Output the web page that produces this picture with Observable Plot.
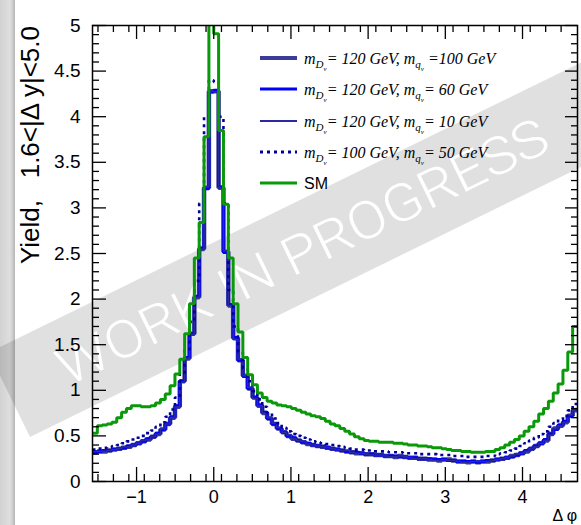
<!DOCTYPE html>
<html><head><meta charset="utf-8">
<script src="https://cdn.jsdelivr.net/npm/d3@7"></script>
<script src="https://cdn.jsdelivr.net/npm/@observablehq/plot@0.6"></script>
<style>
html,body{margin:0;padding:0;background:#fff;}
#chart{width:581px;height:525px;overflow:hidden;}
</style></head><body><div id="chart"></div>
<script>
// Histogram binning: 100 bins over [-pi/2, 3pi/2]
const xMin = -Math.PI / 2, xMax = 3 * Math.PI / 2, nBins = 100;

// Series values (yield per bin)
const mD120mq100 = [0.32,0.33,0.33,0.34,0.35,0.36,0.37,0.38,0.40,0.42,0.44,0.46,0.49,0.52,0.57,0.63,0.70,0.82,1.10,1.35,1.62,2.02,2.55,3.22,4.28,4.28,3.22,2.52,1.93,1.57,1.33,1.16,1.02,0.92,0.83,0.75,0.69,0.63,0.58,0.54,0.50,0.47,0.45,0.43,0.41,0.40,0.39,0.38,0.37,0.36,0.35,0.34,0.33,0.32,0.31,0.31,0.30,0.30,0.29,0.29,0.28,0.28,0.27,0.28,0.27,0.26,0.26,0.25,0.25,0.24,0.24,0.23,0.24,0.24,0.23,0.22,0.22,0.21,0.22,0.21,0.22,0.22,0.23,0.24,0.25,0.26,0.28,0.29,0.31,0.33,0.36,0.39,0.42,0.45,0.52,0.58,0.61,0.65,0.72,0.78];
const mD120mq60  = [0.32,0.33,0.34,0.34,0.35,0.36,0.37,0.39,0.40,0.42,0.44,0.47,0.49,0.53,0.57,0.63,0.71,0.83,1.10,1.36,1.62,2.03,2.56,3.21,4.27,4.29,3.23,2.51,1.94,1.58,1.33,1.15,1.02,0.92,0.84,0.76,0.69,0.63,0.58,0.54,0.50,0.48,0.45,0.43,0.42,0.40,0.39,0.38,0.37,0.36,0.35,0.34,0.33,0.32,0.32,0.31,0.30,0.30,0.29,0.29,0.28,0.28,0.28,0.27,0.27,0.26,0.26,0.25,0.25,0.25,0.24,0.24,0.24,0.23,0.23,0.22,0.22,0.22,0.22,0.21,0.22,0.23,0.23,0.24,0.25,0.26,0.27,0.29,0.31,0.34,0.36,0.39,0.42,0.46,0.52,0.57,0.62,0.66,0.72,0.79];
const mD120mq10  = [0.33,0.33,0.33,0.34,0.35,0.36,0.38,0.38,0.40,0.42,0.45,0.46,0.49,0.52,0.58,0.63,0.70,0.82,1.09,1.35,1.61,2.02,2.55,3.23,4.28,4.27,3.22,2.53,1.93,1.56,1.34,1.16,1.03,0.91,0.83,0.75,0.70,0.64,0.59,0.54,0.51,0.47,0.45,0.44,0.41,0.40,0.39,0.38,0.37,0.36,0.35,0.34,0.34,0.32,0.31,0.31,0.30,0.29,0.29,0.29,0.28,0.27,0.27,0.28,0.27,0.26,0.25,0.25,0.25,0.24,0.23,0.23,0.24,0.23,0.23,0.22,0.21,0.21,0.22,0.22,0.22,0.22,0.23,0.24,0.25,0.26,0.28,0.30,0.31,0.33,0.36,0.38,0.42,0.45,0.51,0.58,0.61,0.65,0.73,0.78];
const mD100mq50  = [0.35,0.36,0.37,0.38,0.39,0.40,0.42,0.44,0.46,0.48,0.50,0.53,0.56,0.60,0.65,0.71,0.79,0.92,1.18,1.45,1.75,2.20,3.05,4.00,4.40,4.38,4.00,3.05,2.10,1.70,1.42,1.24,1.10,0.99,0.90,0.82,0.75,0.69,0.64,0.59,0.55,0.52,0.50,0.48,0.46,0.44,0.43,0.42,0.41,0.40,0.39,0.38,0.37,0.36,0.35,0.35,0.34,0.34,0.33,0.33,0.33,0.32,0.32,0.32,0.31,0.31,0.31,0.30,0.30,0.30,0.30,0.29,0.29,0.29,0.28,0.28,0.28,0.27,0.27,0.27,0.27,0.28,0.28,0.30,0.31,0.32,0.34,0.36,0.39,0.42,0.45,0.48,0.52,0.55,0.60,0.64,0.68,0.72,0.78,0.85];
const smValues   = [0.53,0.61,0.62,0.63,0.65,0.70,0.76,0.80,0.83,0.83,0.82,0.82,0.83,0.86,0.90,0.96,1.05,1.18,1.34,1.62,1.95,2.45,2.84,3.78,5.40,4.91,3.85,3.04,2.45,1.95,1.64,1.36,1.17,1.06,0.97,0.92,0.88,0.86,0.84,0.83,0.82,0.80,0.78,0.76,0.74,0.72,0.71,0.69,0.66,0.63,0.61,0.58,0.55,0.52,0.49,0.47,0.45,0.44,0.44,0.43,0.43,0.43,0.42,0.42,0.41,0.40,0.40,0.39,0.39,0.38,0.37,0.37,0.36,0.35,0.34,0.34,0.33,0.33,0.32,0.32,0.32,0.33,0.33,0.35,0.37,0.40,0.43,0.46,0.50,0.55,0.60,0.66,0.74,0.80,0.88,0.97,1.07,1.22,1.42,1.70];

// Legend entries
const legendMD = ["120", "120", "120", "100"];
const legendMQ = ["=100", "= 60", "= 10", "= 50"];
const smLabel = "SM";

// Axis ticks and labels
const xMajor = [-1, 0, 1, 2, 3, 4];
const yMajor = [0, 0.5, 1, 1.5, 2, 2.5, 3, 3.5, 4, 4.5, 5];
const yTitle = "Yield,   1.6<|\u0394 y|<5.0";
const xTitle = "\u0394 \u03c6";
const watermark = "WORK IN PROGRESS";

// Styles
const seriesList = [mD120mq100, mD120mq60, mD120mq10, mD100mq50, smValues];
const strokes = ["#3b3b98", "#0000ff", "#2a2a9e", "#00009a", "#0a990a"];
const widths = [4.5, 3, 1.6, 2.6, 3];
const dashes = [null, null, null, "3,4", null];
const legendWidths = [4, 3, 2, 3, 3];

const W = 581, H = 525, mL = 92, mR = 4, mT = 25, mB = 44;
const innerW = W - mL - mR, innerH = H - mT - mB;
const binW = (xMax - xMin) / nBins;
const toRows = vals => vals.map((v, i) => ({x: xMin + i * binW, y: v})).concat([{x: xMax, y: vals[vals.length - 1]}]);

const xMinor = d3.range(-15, 47, 2).map(v => Math.round(v) / 10).filter(v => !xMajor.includes(v) && v > xMin && v < xMax);
const yMinor = d3.range(0, 51).map(v => v / 10).filter(v => !yMajor.some(m => Math.abs(m - v) < 1e-9));

const lineMarks = seriesList.map((vals, i) => Plot.line(toRows(vals), {
  x: "x", y: "y", curve: "step-after", stroke: strokes[i], strokeWidth: widths[i],
  strokeDasharray: dashes[i] || undefined, strokeLinejoin: "miter", strokeLinecap: "butt", clip: true
}));

const plot = Plot.plot({
  width: W, height: H, marginLeft: mL, marginRight: mR, marginTop: mT, marginBottom: mB,
  x: {domain: [xMin, xMax], axis: null},
  y: {domain: [0, 5], axis: null},
  style: {fontFamily: "'Liberation Sans', Arial, Helvetica, sans-serif", color: "black", background: "white"},
  marks: [
    ...lineMarks,
    Plot.frame({stroke: "black", strokeWidth: 1.5}),
    Plot.tickX(xMajor, {x: d => d, insetTop: innerH - 14, stroke: "black", strokeWidth: 1.3}),
    Plot.tickX(xMinor, {x: d => d, insetTop: innerH - 7, stroke: "black", strokeWidth: 1.3}),
    Plot.tickX(xMajor, {x: d => d, insetBottom: innerH - 14, stroke: "black", strokeWidth: 1.3}),
    Plot.tickX(xMinor, {x: d => d, insetBottom: innerH - 7, stroke: "black", strokeWidth: 1.3}),
    Plot.tickY(yMajor, {y: d => d, insetRight: innerW - 14, stroke: "black", strokeWidth: 1.3}),
    Plot.tickY(yMinor, {y: d => d, insetRight: innerW - 7, stroke: "black", strokeWidth: 1.3}),
    Plot.tickY(yMajor, {y: d => d, insetLeft: innerW - 12, stroke: "black", strokeWidth: 1.3}),
    Plot.tickY(yMinor, {y: d => d, insetLeft: innerW - 6, stroke: "black", strokeWidth: 1.3}),
    Plot.axisX({ticks: xMajor, tickSize: 0, tickPadding: 9, fontSize: 18, label: null,
      tickFormat: d => d < 0 ? "\u2212" + (-d) : String(d)}),
    Plot.axisY({ticks: yMajor, tickSize: 0, tickPadding: 12, fontSize: 19, label: null,
      tickFormat: d => String(d)})
  ]
});

document.getElementById("chart").appendChild(plot);

const svg = d3.select(plot);
// Background decorations (inserted beneath everything)
const bg = svg.insert("g", ":first-child");
const defs = svg.append("defs");
const grad = defs.append("linearGradient").attr("id", "stripGrad").attr("x1", 0).attr("x2", 1).attr("y1", 0).attr("y2", 0);
[["0", "#d2d2d2"], ["0.65", "#dedede"], ["0.82", "#cfcfcf"], ["1", "#b4b4b4"]].forEach(([o, c]) =>
  grad.append("stop").attr("offset", o).attr("stop-color", c));
bg.append("rect").attr("x", 0).attr("y", 0).attr("width", W).attr("height", H).attr("fill", "white");
bg.append("rect").attr("x", 0).attr("y", 0).attr("width", 15).attr("height", H).attr("fill", "url(#stripGrad)");
const band = bg.append("g").attr("transform", "translate(30,437) rotate(-26.1)");
band.append("rect").attr("x", 0).attr("y", -94).attr("width", 720).attr("height", 94)
  .attr("fill", "black").attr("fill-opacity", 0.12);
band.append("text").attr("x", 326).attr("y", -28.5).attr("text-anchor", "middle")
  .attr("font-family", "Roboto, 'Liberation Sans', sans-serif").attr("font-weight", 300)
  .attr("font-size", 52).attr("fill", "white").attr("textLength", 540).attr("lengthAdjust", "spacingAndGlyphs")
  .text(watermark);

// Axis titles
svg.append("text").attr("transform", "translate(38.5,26) rotate(-90)").attr("text-anchor", "end")
  .attr("font-size", 26).attr("font-family", "'Liberation Sans', Arial, sans-serif").attr("fill", "black")
  .text(yTitle);
svg.append("text").attr("x", 577).attr("y", 521).attr("text-anchor", "end")
  .attr("font-size", 16).attr("font-family", "'Liberation Sans', Arial, sans-serif").attr("fill", "black")
  .text(xTitle);

// Legend
const rowsY = [58, 89, 121, 152, 183];
const leg = svg.append("g").attr("text-anchor", "start");
rowsY.forEach((ry, i) => {
  const ln = leg.append("line").attr("x1", 260).attr("x2", 297).attr("y1", ry).attr("y2", ry)
    .attr("stroke", strokes[i]).attr("stroke-width", legendWidths[i]);
  if (dashes[i]) ln.attr("stroke-dasharray", dashes[i]);
  if (i < 4) {
    const t = leg.append("text").attr("x", 304).attr("y", ry + 6).attr("text-anchor", "start")
      .attr("font-family", "'Liberation Serif', 'Times New Roman', serif").attr("font-style", "italic")
      .attr("font-size", 16).attr("fill", "black");
    t.append("tspan").text("m");
    t.append("tspan").attr("font-size", 11).attr("dy", 4).text("D");
    t.append("tspan").attr("font-size", 7).attr("dy", 3).text("\u03bd");
    t.append("tspan").attr("font-size", 16).attr("dy", -7).text("= " + legendMD[i] + " GeV, m");
    t.append("tspan").attr("font-size", 11).attr("dy", 4).text("q");
    t.append("tspan").attr("font-size", 7).attr("dy", 3).text("\u03bd");
    t.append("tspan").attr("font-size", 16).attr("dy", -7).attr("dx", i === 0 ? 4 : 0).text(legendMQ[i] + " GeV");
  } else {
    leg.append("text").attr("x", 304).attr("y", ry + 6).attr("text-anchor", "start")
      .attr("font-family", "'Liberation Sans', Arial, sans-serif").attr("font-size", 16).attr("fill", "black")
      .text(smLabel);
  }
});
</script></body></html>
